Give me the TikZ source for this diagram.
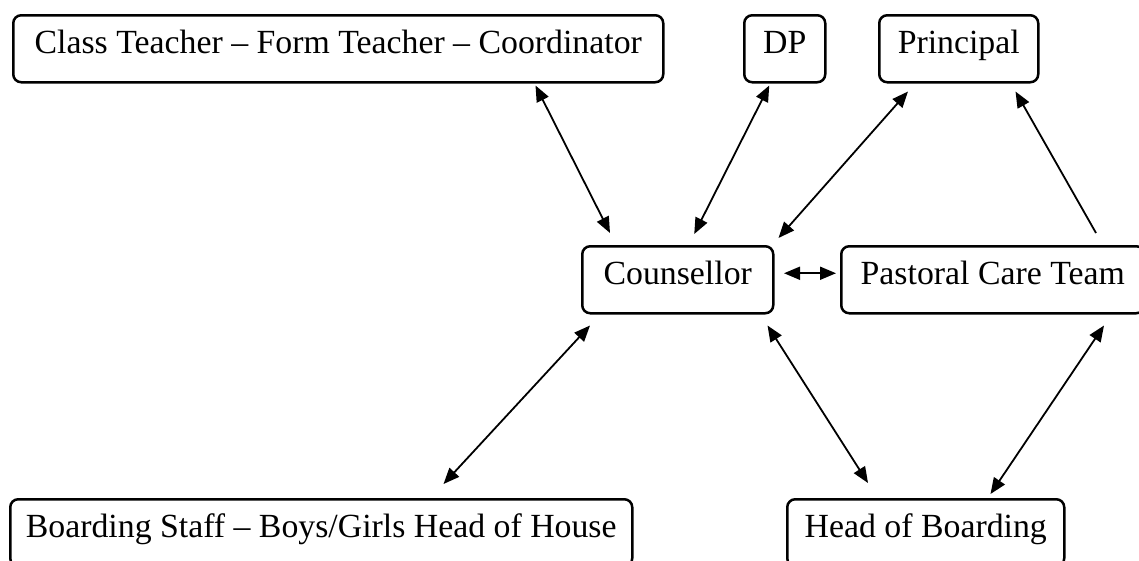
\documentclass[tikz,border=0pt]{standalone}
\usepackage{fontspec}
\setmainfont{Liberation Serif}
\usetikzlibrary{arrows.meta}

\begin{document}
\begin{tikzpicture}[
    x=1pt, y=-1pt,
    <->, >={Triangle[length=16pt,width=13pt]}, line width=1.8pt,
    rbox/.style={rectangle, rounded corners=8pt, draw=black, line width=2.5pt, anchor=north west,
        inner xsep=0pt, inner ysep=0pt, text height=38pt, text depth=29pt,
        font=\fontsize{33.8pt}{40pt}\selectfont}
]
\clip (0,0) rectangle (1139,560);

\node [rbox, minimum width=650pt] (ctf) at (12,14) {Class Teacher – Form Teacher – Coordinator};
\node [rbox, minimum width=81pt] (dp) at (743,14) {DP};
\node [rbox, minimum width=159pt] (prin) at (878,14) {Principal};
\node [rbox, minimum width=191pt] (cns) at (581,245) {Counsellor};
\node [rbox, minimum width=303pt] (pct) at (840,245) {Pastoral Care Team};
\node [rbox, minimum width=622pt] (bst) at (9,498) {Boarding Staff – Boys/Girls Head of House};
\node [rbox, minimum width=277pt] (hob) at (786,498) {Head of Boarding};

\draw ([shift={(-129,2)}]ctf.south east) -- ([shift={(29,-12)}]cns.north west);
\draw ([shift={(-15.5,2)}]dp.south) -- ([shift={(16.5,-11)}]cns.north);
\draw ([shift={(30,8)}]prin.south west) -- ([shift={(4,-7)}]cns.north east);
\draw [->] ([shift={(256,-12)}]pct.north west) -- ([shift={(-24,8)}]prin.south east);
\draw ([shift={(9.5,-6.5)}]cns.east) -- ([shift={(-4,-6.5)}]pct.west);
\draw ([shift={(9,11)}]cns.south west) -- ([shift={(-190,-14)}]bst.north east);
\draw ([shift={(-7,11)}]cns.south east) -- ([shift={(82,-15)}]hob.north west);
\draw ([shift={(264,11)}]pct.south west) -- ([shift={(-75,-4)}]hob.north east);

\end{tikzpicture}
\end{document}
